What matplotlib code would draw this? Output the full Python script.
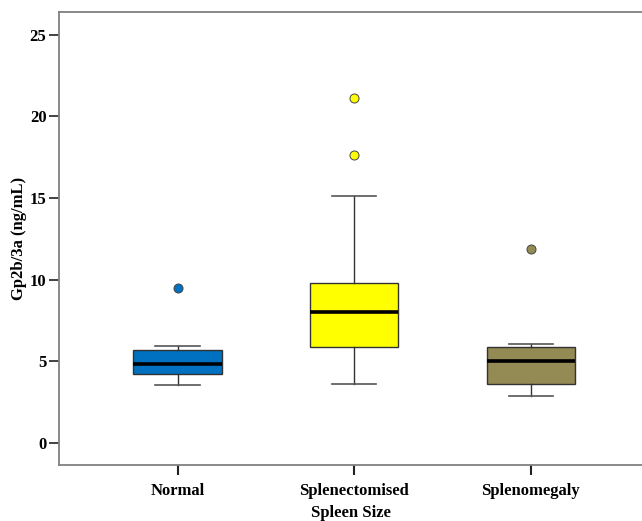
import matplotlib
matplotlib.use("Agg")
import matplotlib.pyplot as plt

# valores
grupos = ["Normal", "Splenectomised", "Splenomegaly"]
cores = ["#0070C0", "#FFFF00", "#948A54"]
mediana = [4.84, 8.05, 5.04]
q1 = [4.21, 5.86, 3.62]
q3 = [5.70, 9.80, 5.86]
bigode_inf = [3.53, 3.63, 2.90]
bigode_sup = [5.92, 15.12, 6.05]
outliers = [[9.52], [17.63, 21.12], [11.89]]

plt.rcParams["font.family"] = ["Liberation Serif", "DejaVu Serif"]
plt.rcParams["font.weight"] = "bold"

fig = plt.figure(figsize=(6.42, 5.21), dpi=100)
ax = fig.add_axes([59 / 642, 1 - 465 / 521, 1 - 59 / 642, (465 - 12) / 521])

stats = []
for i in range(len(grupos)):
    stats.append({"med": mediana[i], "q1": q1[i], "q3": q3[i],
                  "whislo": bigode_inf[i], "whishi": bigode_sup[i],
                  "fliers": outliers[i], "label": grupos[i]})

bp = ax.bxp(stats, positions=range(len(grupos)), widths=0.5, patch_artist=True,
            showfliers=True,
            boxprops=dict(edgecolor="#333333", linewidth=1.0),
            medianprops=dict(color="black", linewidth=2.6),
            whiskerprops=dict(color="#333333", linewidth=1.0),
            capprops=dict(color="#555555", linewidth=1.2),
            capwidths=0.25)
for i, caixa in enumerate(bp["boxes"]):
    caixa.set_facecolor(cores[i])
for i, pts in enumerate(bp["fliers"]):
    pts.set(marker="o", markerfacecolor=cores[i], markeredgecolor="#444444",
            markersize=6.5, markeredgewidth=0.7)

ax.set_xlim(-0.671, 2.629)
ax.set_ylim(-1.35, 26.4)
ax.set_yticks([0, 5, 10, 15, 20, 25])
ax.set_xticks(range(len(grupos)))
ax.set_xticklabels(grupos, fontsize=12, fontweight="bold")
ax.tick_params(axis="y", labelsize=12, length=7, width=1.2, color="#222222", pad=2)
ax.tick_params(axis="x", length=7, width=1.5, color="#222222", pad=6)
for lbl in ax.get_yticklabels():
    lbl.set_fontweight("bold")

for lado in ["left", "top", "bottom"]:
    ax.spines[lado].set_color("#808080")
    ax.spines[lado].set_linewidth(1.3)
ax.spines["right"].set_visible(False)

ax.set_ylabel("Gp2b/3a (ng/mL)", fontsize=12, fontweight="bold", labelpad=2)
ax.set_xlabel("Spleen Size", fontsize=12, fontweight="bold", labelpad=4)

fig.savefig("out.png", dpi=100)
